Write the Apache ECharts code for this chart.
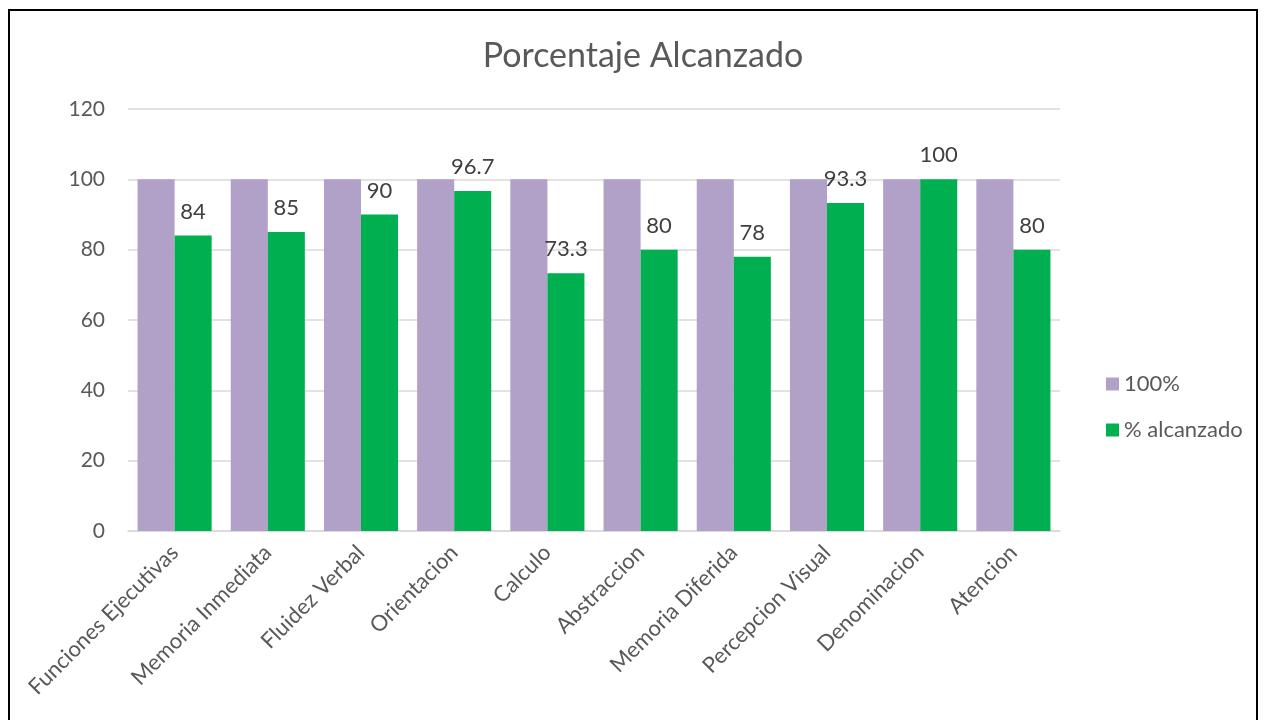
<!DOCTYPE html>
<html>
<head>
<meta charset="utf-8">
<script src="https://cdn.jsdelivr.net/npm/echarts@6/dist/echarts.min.js"></script>
<style>
html, body { margin: 0; padding: 0; background: #fff; }
#chart { width: 1270px; height: 720px; }
</style>
</head>
<body>
<div id="chart"></div>
<script>
var categories = ['Funciones Ejecutivas', 'Memoria Inmediata', 'Fluidez Verbal', 'Orientacion', 'Calculo',
    'Abstraccion', 'Memoria Diferida', 'Percepcion Visual', 'Denominacion', 'Atencion'];
var fullValues = [100, 100, 100, 100, 100, 100, 100, 100, 100, 100];
var reachedValues = [84, 85, 90, 96.7, 73.3, 80, 78, 93.3, 100, 80];

var fontName = 'Lato';

var chart = echarts.init(document.getElementById('chart'));
var option = {
    backgroundColor: '#fff',
    textStyle: { fontFamily: fontName },
    title: {
        text: 'Porcentaje Alcanzado',
        left: 638,
        top: 34,
        textAlign: 'center',
        textStyle: { fontFamily: fontName, fontSize: 34, fontWeight: 'normal', color: '#595959' }
    },
    graphic: [{
        type: 'rect',
        shape: { x: 9, y: 10, width: 1248, height: 730 },
        style: { fill: 'none', stroke: '#000', lineWidth: 2 },
        silent: true
    }],
    legend: {
        orient: 'vertical',
        left: 1101,
        top: 368,
        itemWidth: 13,
        itemHeight: 13,
        itemGap: 24,
        icon: 'rect',
        textStyle: { fontFamily: fontName, fontSize: 22, color: '#595959' },
        data: ['100%', '% alcanzado']
    },
    grid: { left: 128, right: 210, top: 109, bottom: 189 },
    xAxis: {
        type: 'category',
        data: categories,
        axisLine: { lineStyle: { color: '#d9d9d9', width: 1.5 } },
        axisTick: { show: false },
        axisLabel: {
            rotate: 45,
            interval: 0,
            margin: 18,
            fontFamily: fontName,
            fontSize: 22,
            color: '#595959'
        }
    },
    yAxis: {
        type: 'value',
        min: 0,
        max: 120,
        interval: 20,
        axisLine: { show: false },
        axisTick: { show: false },
        splitLine: { lineStyle: { color: '#d9d9d9', width: 1.5 } },
        axisLabel: { fontFamily: fontName, fontSize: 21, color: '#595959', margin: 23 }
    },
    series: [
        {
            name: '100%',
            type: 'bar',
            data: fullValues,
            barGap: '0%',
            barCategoryGap: '20.5%',
            itemStyle: { color: '#b1a0c7' }
        },
        {
            name: '% alcanzado',
            type: 'bar',
            data: reachedValues,
            barGap: '0%',
            barCategoryGap: '20.5%',
            itemStyle: { color: '#00b050' },
            label: {
                show: true,
                position: 'top',
                distance: 13,
                fontFamily: fontName,
                fontSize: 22,
                color: '#404040'
            }
        }
    ]
};
chart.setOption(option);
</script>
</body>
</html>
